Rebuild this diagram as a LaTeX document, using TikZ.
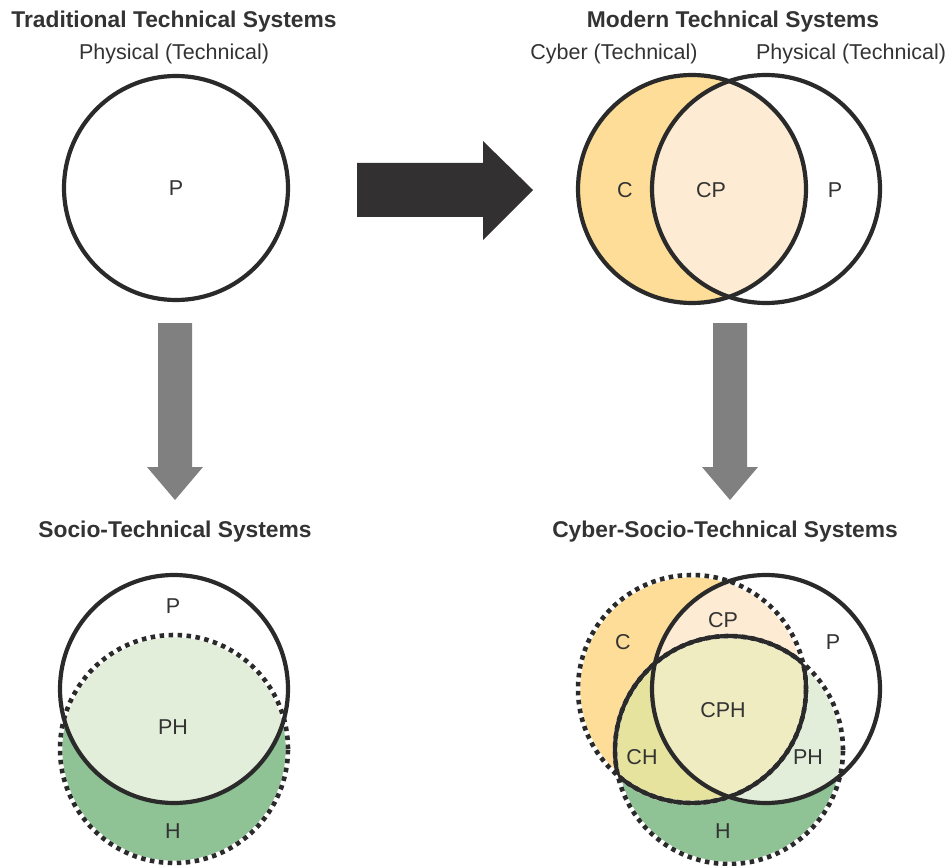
\documentclass[tikz,border=0pt]{standalone}
\usepackage{fontspec}
\setmainfont{Liberation Sans}
\definecolor{textgray}{HTML}{333333}
\definecolor{ringgray}{HTML}{2A2A2A}
\definecolor{arrowdark}{HTML}{333031}
\definecolor{arrowgray}{HTML}{808080}
\definecolor{corange}{HTML}{FDDD97}
\definecolor{cppeach}{HTML}{FDEBD3}
\definecolor{hgreen}{HTML}{8FC295}
\definecolor{phgreen}{HTML}{E3EEDA}
\definecolor{chyellow}{HTML}{E5E39D}
\definecolor{cphyellow}{HTML}{F0ECC1}
\def\circr{114pt}
\begin{document}
\begin{tikzpicture}[x=1pt,y=-1pt,
  txt/.style={text=textgray, inner sep=0pt, font=\fontsize{21.5}{25}\selectfont},
  ttl/.style={text=textgray, inner sep=0pt, anchor=base, font=\bfseries\fontsize{22.8}{26}\selectfont},
  sub/.style={txt, anchor=base},
  solidring/.style={draw=ringgray, line width=4.2pt},
  dotring/.style={draw=ringgray, line width=4.6pt, dash pattern=on 4.5pt off 4.5pt},
  gapring/.style={draw=white, line width=4.6pt},
  blockarrow/.style={fill=arrowdark},
  downarrow/.style={fill=arrowgray}]
\useasboundingbox (0,0) rectangle (952,866);

% ---- headings ----
\node[ttl] (t1) at (174,28) {Traditional Technical Systems};
\node[ttl] (t2) at (733,28) {Modern Technical Systems};
\node[ttl] (t3) at (175,537) {Socio-Technical Systems};
\node[ttl] (t4) at (725,537) {Cyber-Socio-Technical Systems};
\node[sub] (s1) at (174,60) {Physical (Technical)};
\node[sub] (s2) at (614,60) {Cyber (Technical)};
\node[sub] (s3) at (851,60) {Physical (Technical)};

% ---- traditional: one physical circle ----
\coordinate (tlP) at (176,188);
\draw[solidring] (tlP) circle[radius=112pt];
\node[txt] (tlPl) at (tlP) {P};

% ---- modern: cyber + physical ----
\coordinate (trC) at (692,189);
\coordinate (trP) at (766,189);
\fill[corange] (trC) circle[radius=\circr];
\begin{scope}
  \clip (trC) circle[radius=\circr];
  \fill[cppeach] (trP) circle[radius=\circr];
\end{scope}
\draw[solidring] (trC) circle[radius=\circr];
\draw[solidring] (trP) circle[radius=\circr];
\node[txt] (trCl) at (625,190) {C};
\node[txt] (trCPl) at (711,190) {CP};
\node[txt] (trPl) at (835,190) {P};

% ---- block arrows ----
\fill[blockarrow] (357,163) -- (483,163) -- (483,141) -- (533,190)
  -- (483,240) -- (483,217) -- (357,217) -- cycle;
\foreach \cx in {175,730}{
  \fill[downarrow] ({\cx-17},323) -- ({\cx+17},323) -- ({\cx+17},467)
    -- ({\cx+28},467) -- (\cx,500) -- ({\cx-28},467) -- ({\cx-17},467) -- cycle;
}

% ---- socio-technical: physical + human ----
\coordinate (blP) at (174,689);
\coordinate (blH) at (174,749);
\fill[hgreen] (blH) circle[radius=\circr];
\begin{scope}
  \clip (blP) circle[radius=\circr];
  \fill[phgreen] (blH) circle[radius=\circr];
\end{scope}
\draw[gapring] (blH) circle[radius=\circr];
\draw[dotring] (blH) circle[radius=\circr];
\draw[solidring] (blP) circle[radius=\circr];
\node[txt] (blPl) at (173,606) {P};
\node[txt] (blPHl) at (173,727) {PH};
\node[txt] (blHl) at (173,831) {H};

% ---- cyber-socio-technical: cyber + physical + human ----
\coordinate (brC) at (692,689);
\coordinate (brP) at (766,689);
\coordinate (brH) at (729,750);
\fill[corange] (brC) circle[radius=\circr];
\fill[hgreen] (brH) circle[radius=\circr];
\begin{scope}
  \clip (brP) circle[radius=\circr];
  \fill[cppeach] (brC) circle[radius=\circr];
  \fill[phgreen] (brH) circle[radius=\circr];
\end{scope}
\begin{scope}
  \clip (brC) circle[radius=\circr];
  \fill[chyellow] (brH) circle[radius=\circr];
  \clip (brP) circle[radius=\circr];
  \fill[cphyellow] (brH) circle[radius=\circr];
\end{scope}
\draw[gapring] (brC) circle[radius=\circr];
\draw[gapring] (brH) circle[radius=\circr];
\draw[dotring] (brC) circle[radius=\circr];
\draw[dotring] (brH) circle[radius=\circr];
\begin{scope}
  \clip (brH) circle[radius=\circr];
  \draw[solidring] (brC) circle[radius=\circr];
\end{scope}
\begin{scope}
  \clip (brC) circle[radius=\circr];
  \draw[solidring] (brH) circle[radius=\circr];
\end{scope}
\draw[solidring] (brP) circle[radius=\circr];
\node[txt] (brCl) at (623,642) {C};
\node[txt] (brCPl) at (723,620) {CP};
\node[txt] (brPl) at (833,642) {P};
\node[txt] (brCPHl) at (723,710) {CPH};
\node[txt] (brCHl) at (642,757) {CH};
\node[txt] (brPHl) at (808,757) {PH};
\node[txt] (brHl) at (723,831) {H};
\end{tikzpicture}
\end{document}
